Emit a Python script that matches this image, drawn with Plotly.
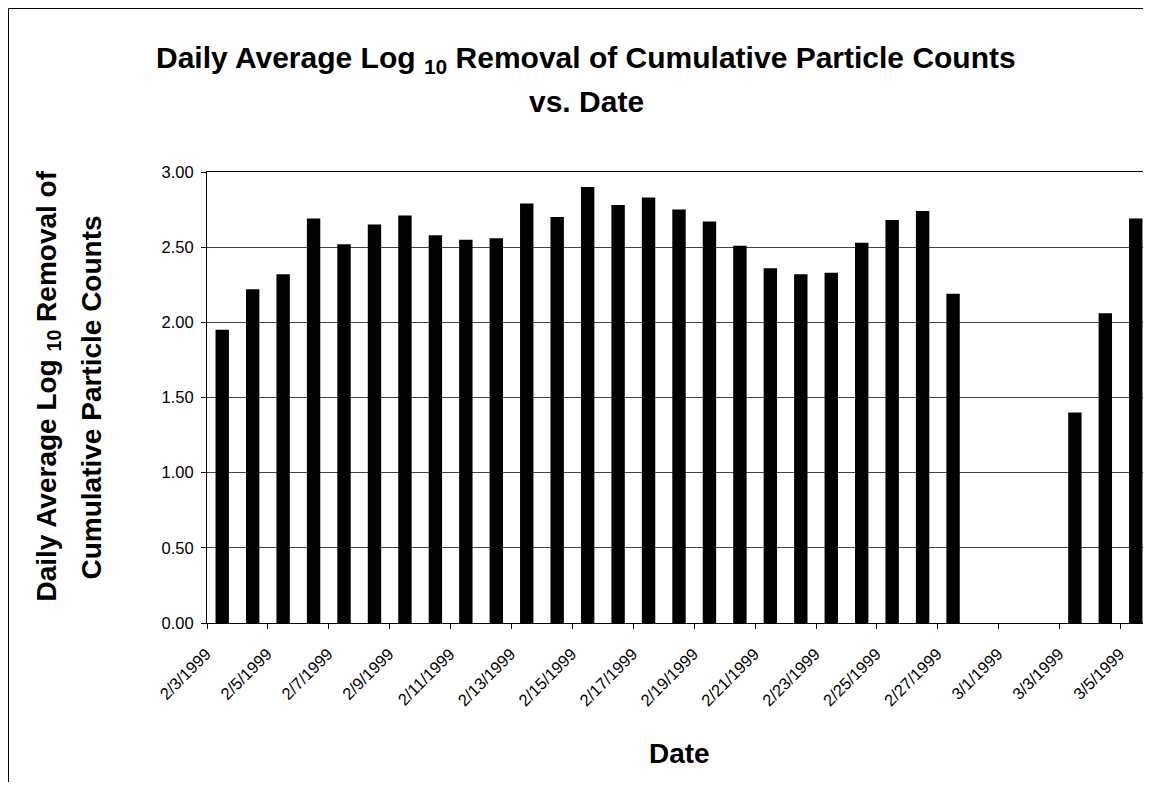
import plotly.graph_objects as go

# Daily dates (category axis) and daily average log10 removal
dates = [
    "2/3/1999", "2/4/1999", "2/5/1999", "2/6/1999", "2/7/1999", "2/8/1999",
    "2/9/1999", "2/10/1999", "2/11/1999", "2/12/1999", "2/13/1999", "2/14/1999",
    "2/15/1999", "2/16/1999", "2/17/1999", "2/18/1999", "2/19/1999", "2/20/1999",
    "2/21/1999", "2/22/1999", "2/23/1999", "2/24/1999", "2/25/1999", "2/26/1999",
    "2/27/1999", "2/28/1999", "3/1/1999", "3/2/1999", "3/3/1999", "3/4/1999",
    "3/5/1999",
]
log_removal = [
    1.95, 2.22, 2.32, 2.69, 2.52, 2.65,
    2.71, 2.58, 2.55, 2.56, 2.79, 2.70,
    2.90, 2.78, 2.83, 2.75, 2.67, 2.51,
    2.36, 2.32, 2.33, 2.53, 2.68, 2.74,
    2.19, None, None, None, 1.40, 2.06,
    2.69,
]
y_ticks = [0.0, 0.5, 1.0, 1.5, 2.0, 2.5, 3.0]

FONT = "Liberation Sans, Arial, sans-serif"

# the page body has an 8px margin, so the figure is sized to fill the rest
OFF = 8
W, H = 1151 - OFF, 790 - 2 * OFF
ML, MR, MT = 207 - OFF, 0, 172 - OFF
MB = H - (623 - OFF)
PW, PH = W - ML - MR, H - MT - MB


def px_x(px):
    # page pixel -> paper x
    return (px - OFF - ML) / PW


def px_y(py):
    # page pixel (from top) -> paper y
    return (H - MB - (py - OFF)) / PH


fig = go.Figure()

fig.add_trace(go.Bar(
    x=dates,
    y=log_removal,
    marker=dict(color="black", line=dict(width=0)),
    showlegend=False,
))

fig.update_layout(
    width=W,
    height=H,
    margin=dict(l=ML, r=MR, t=MT, b=MB, pad=0),
    paper_bgcolor="white",
    plot_bgcolor="white",
    bargap=0.56,
    font=dict(family=FONT, color="black"),
    xaxis=dict(
        type="category",
        categoryorder="array",
        categoryarray=dates,
        range=[-0.5, len(dates) - 0.5],
        tickmode="linear",
        tick0=0,
        dtick=2,
        tickson="boundaries",
        ticks="outside",
        ticklen=5,
        tickcolor="black",
        tickangle=-45,
        tickfont=dict(size=16.5, family=FONT),
        ticklabelstandoff=14,
        ticklabelshift=-16,
        showline=True,
        linecolor="black",
        linewidth=1,
        mirror=True,
        showgrid=False,
        zeroline=False,
    ),
    yaxis=dict(
        range=[0, 3],
        tickvals=y_ticks,
        tickformat=".2f",
        ticks="outside",
        ticklen=5,
        tickcolor="black",
        tickfont=dict(size=16.5, family=FONT),
        ticklabelstandoff=4,
        showline=True,
        linecolor="black",
        linewidth=1,
        showgrid=True,
        gridcolor="#444444",
        gridwidth=1,
        zeroline=False,
    ),
)

# chart-area border (only top and left edges are visible)
fig.add_shape(
    type="rect", xref="paper", yref="paper",
    x0=px_x(8.5), x1=px_x(1180), y0=px_y(820), y1=px_y(8.5),
    line=dict(color="black", width=1), layer="above",
)

texts = [
    ("<b>Daily Average Log <sub>10</sub> Removal of Cumulative Particle Counts</b>", 586, 59, 0, 30),
    ("<b>vs. Date</b>", 586, 102, 0, 30),
    ("<b>Daily Average Log <sub>10</sub> Removal of</b>", 47.5, 386, -90, 28),
    ("<b>Cumulative Particle Counts</b>", 91, 397.5, -90, 28),
    ("<b>Date</b>", 679.5, 753.5, 0, 28),
]
for text, cx, cy, angle, size in texts:
    fig.add_annotation(
        text=text, xref="paper", yref="paper",
        x=px_x(cx), y=px_y(cy), xanchor="center", yanchor="middle",
        textangle=angle, showarrow=False,
        font=dict(family=FONT, size=size, color="black"),
    )

fig.write_html("out.html")
